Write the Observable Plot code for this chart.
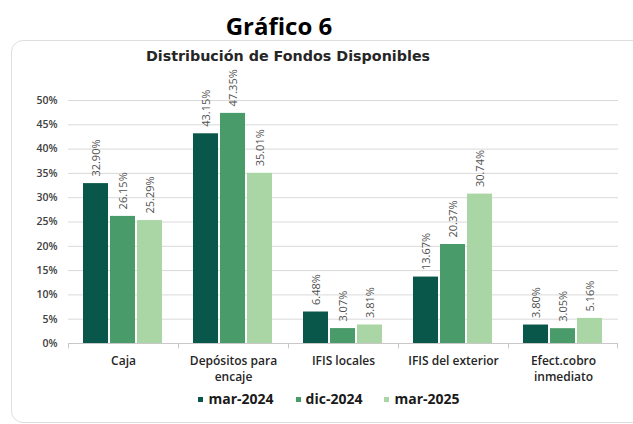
<!DOCTYPE html>
<html><head><meta charset="utf-8">
<script src="https://cdn.jsdelivr.net/npm/d3@7"></script>
<script src="https://cdn.jsdelivr.net/npm/@observablehq/plot@0.6"></script>
<style>
html,body{margin:0;padding:0;background:#fff;}
body{width:633px;height:424px;overflow:hidden;position:relative;font-family:"Open Sans",sans-serif;}
#title{position:absolute;top:14px;left:0;width:558px;text-align:center;font-family:"Open Sans",sans-serif;font-weight:bold;font-size:24px;line-height:24px;color:#000;}
#card{position:absolute;left:11px;top:40px;width:680px;height:381px;border:1px solid #dedede;border-radius:12px;}
#sub{position:absolute;top:48px;left:0;width:576px;text-align:center;font-family:"DejaVu Sans",sans-serif;font-weight:bold;font-size:14.3px;line-height:16px;color:#262626;}
#chart{position:absolute;left:0;top:60px;}
#legend{position:absolute;top:391px;left:0;width:658px;display:flex;justify-content:center;gap:22px;font-family:"Open Sans",sans-serif;font-weight:bold;font-size:14px;line-height:16px;color:#1a1a1a;}
#legend span.sw{display:inline-block;width:5px;height:5px;margin-right:5px;vertical-align:middle;position:relative;top:-1px;}
</style></head>
<body>
<div id="card"></div>
<div id="title">Gráfico 6</div>
<div id="sub">Distribución de Fondos Disponibles</div>
<div id="chart"></div>
<div id="legend"></div>
<script>
const categories = ["Caja","Depósitos para encaje","IFIS locales","IFIS del exterior","Efect.cobro inmediato"];
const categoryLabels = ["Caja","Depósitos para\nencaje","IFIS locales","IFIS del exterior","Efect.cobro\ninmediato"];
const series = ["mar-2024","dic-2024","mar-2025"];
const mar2024 = [32.90,43.15,6.48,13.67,3.80];
const dic2024 = [26.15,47.35,3.07,20.37,3.05];
const mar2025 = [25.29,35.01,3.81,30.74,5.16];
const colors = ["#08574a","#4a9b6a","#a9d6a4"];
const yTicks = [0,5,10,15,20,25,30,35,40,45,50];

const seriesValues = [mar2024,dic2024,mar2025];
const data = categories.flatMap((c,i)=>seriesValues.map((arr,j)=>({category:c, series:series[j], value:arr[i]})));

const W = 633, ML = 66, MR = 13;
const pI = 0.07, pO = 0.52;
const facetW = (W-ML-MR)/categories.length;
const step = facetW/(series.length - pI + 2*pO);
const bw = step*(1-pI);
const toLeft = -(pO*step + bw/2);
const toRight = (pO*step + bw/2);

const chart = Plot.plot({
  width: W, height: 328,
  marginTop: 40, marginBottom: 45, marginLeft: ML, marginRight: MR,
  style: {fontFamily: "'Open Sans', sans-serif", fontSize: "10.5px", fontWeight: 600, color: "#404040", background: "transparent"},
  fx: {domain: categories, padding: 0, axis: null, label: null},
  x: {domain: series, paddingInner: pI, paddingOuter: pO, axis: null},
  y: {domain: [0,50], ticks: yTicks, tickFormat: d => d + "%", tickSize: 0, tickPadding: 11, label: null},
  color: {domain: series, range: colors},
  marks: [
    Plot.ruleY(yTicks.filter(d => d > 0), {stroke: "#d9d9d9", strokeWidth: 1}),
    Plot.barY(data, {fx: "category", x: "series", y: "value", fill: "series"}),
    Plot.ruleY([0], {stroke: "#c8c8c8", strokeWidth: 1}),
    Plot.ruleX(categories, {fx: d => d, x: () => series[0], dx: toLeft, y1: 0, y2: -1.1, stroke: "#c8c8c8"}),
    Plot.ruleX(categories.slice(-1), {fx: d => d, x: () => series[2], dx: toRight, y1: 0, y2: -1.1, stroke: "#c8c8c8"}),
    Plot.text(data, {fx: "category", x: "series", y: "value", text: d => d.value.toFixed(2) + "%", rotate: -90, textAnchor: "start", lineAnchor: "middle", dy: -7, fill: "#505050", fontSize: 11, fontWeight: "normal"}),
    Plot.text(categories, {fx: d => d, text: (d,i) => categoryLabels[i], frameAnchor: "bottom", lineAnchor: "top", dy: 11, lineHeight: 1.27, fill: "#262626", fontSize: 12, fontWeight: 600})
  ]
});
document.getElementById("chart").appendChild(chart);

const lg = document.getElementById("legend");
series.forEach((s,i) => {
  const item = document.createElement("div");
  item.innerHTML = `<span class="sw" style="background:${colors[i]}"></span>${s}`;
  lg.appendChild(item);
});
</script>
</body></html>
